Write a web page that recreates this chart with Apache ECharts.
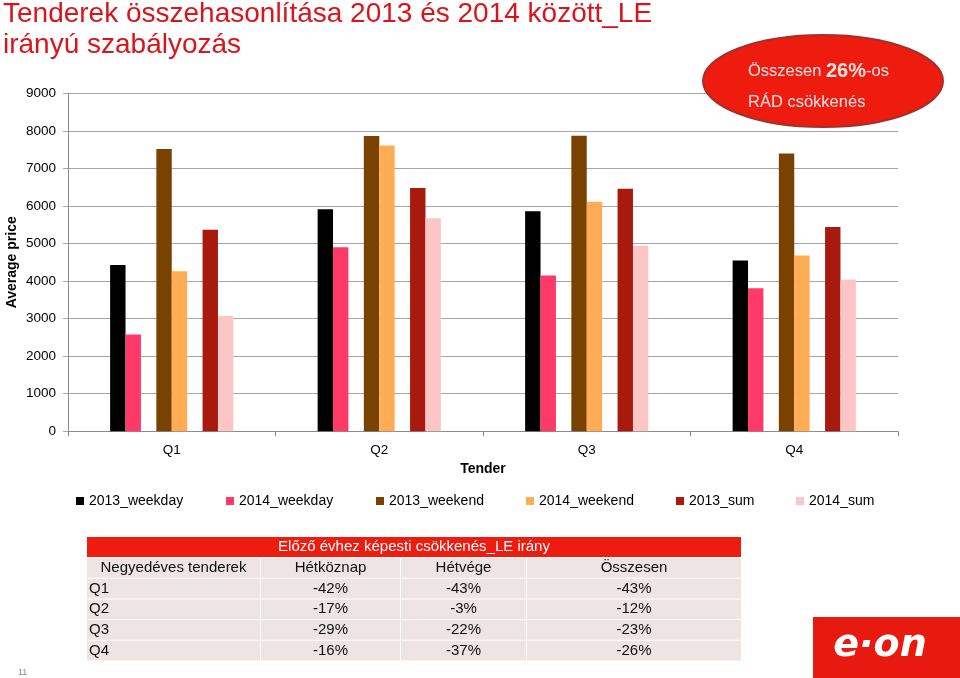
<!DOCTYPE html>
<html><head><meta charset="utf-8">
<script src="https://cdn.jsdelivr.net/npm/echarts@6/dist/echarts.min.js"></script>
<style>html,body{margin:0;padding:0;background:#fff}#c{width:960px;height:678px}</style>
</head><body><div id="c"></div>
<script>
// ---- data ----
const categories = ['Q1', 'Q2', 'Q3', 'Q4'];
const weekday2013 = [4430, 5910, 5860, 4550];
const weekday2014 = [2580, 4900, 4150, 3810];
const weekend2013 = [7520, 7860, 7870, 7400];
const weekend2014 = [4260, 7610, 6110, 4680];
const sum2013 = [5370, 6480, 6460, 5440];
const sum2014 = [3070, 5670, 4940, 4040];
const gapSlot = [null, null, null, null];
const seriesNames = ['2013_weekday', '2014_weekday', '2013_weekend', '2014_weekend', '2013_sum', '2014_sum'];
const yMin = 0, yMax = 9000, yStep = 1000;

const titleLines = ['Tenderek összehasonlítása 2013 és 2014 között_LE', 'irányú szabályozás'];
const calloutLine1 = ['Összesen ', '26%', '-os'];
const calloutLine2 = 'RÁD csökkenés';
const tableTitle = 'Előző évhez képesti csökkenés_LE irány';
const tableHead = ['Negyedéves tenderek', 'Hétköznap', 'Hétvége', 'Összesen'];
const tableQuarters = ['Q1', 'Q2', 'Q3', 'Q4'];
const tableWeekday = ['-42%', '-17%', '-29%', '-16%'];
const tableWeekend = ['-43%', '-3%', '-22%', '-37%'];
const tableTotal = ['-43%', '-12%', '-23%', '-26%'];
const pageNumber = '11';

// ---- styles ----
const FONT = '"Liberation Sans", Arial, sans-serif';
const colors = ['#000000', '#ff3a68', '#7a4200', '#ffad55', '#a81a0e', '#fcc6c6'];
const gridColor = '#a6a6a6';

const chart = echarts.init(document.getElementById('c'), null, {renderer: 'canvas'});

function bar(name, data, color) {
  return {
    name: name, type: 'bar', data: data,
    barGap: '0%', barCategoryGap: '40.6%',
    itemStyle: {color: color},
    emphasis: {disabled: true},
    animation: false
  };
}
const series = [
  bar(seriesNames[0], weekday2013, colors[0]),
  bar(seriesNames[1], weekday2014, colors[1]),
  bar('gapA', gapSlot, 'transparent'),
  bar(seriesNames[2], weekend2013, colors[2]),
  bar(seriesNames[3], weekend2014, colors[3]),
  bar('gapB', gapSlot, 'transparent'),
  bar(seriesNames[4], sum2013, colors[4]),
  bar(seriesNames[5], sum2014, colors[5])
];

const legendLefts = [71, 221, 371, 521, 671, 791];
const legends = seriesNames.map((n, i) => ({
  data: [n], left: legendLefts[i], top: 489,
  icon: 'rect', itemWidth: 8, itemHeight: 8,
  selectedMode: false,
  textStyle: {fontFamily: FONT, fontSize: 14, color: '#000'}
}));

// ---- table graphic ----
const cols = [[87, 260], [261, 400], [401, 526], [527, 741]];
const rowTop0 = 558, rowH = 20.7;
const tbl = [];
tbl.push({type: 'rect', shape: {x: 87, y: 537, width: 654, height: 20}, style: {fill: '#ee1c0f'}, z: 100});
tbl.push({type: 'text', x: 414, y: 547, z: 101, style: {text: tableTitle, fill: '#fff', font: '15px ' + FONT, textAlign: 'center', textVerticalAlign: 'middle'}});
const rows = [tableHead].concat(tableQuarters.map((q, i) => [q, tableWeekday[i], tableWeekend[i], tableTotal[i]]));
rows.forEach((r, ri) => {
  const y = rowTop0 + ri * rowH;
  cols.forEach((c, ci) => {
    tbl.push({type: 'rect', shape: {x: c[0], y: y, width: c[1] - c[0], height: rowH - 1}, style: {fill: '#efe4e4'}, z: 100});
    const left = (ci === 0 && ri > 0);
    tbl.push({type: 'text', x: left ? c[0] + 2 : (c[0] + c[1]) / 2, y: y + (rowH - 1) / 2, z: 101,
      style: {text: r[ci], fill: '#111', font: '15px ' + FONT, textAlign: left ? 'left' : 'center', textVerticalAlign: 'middle'}});
  });
});

const calloutColor = '#f8e2e2';
const graphics = [
  {type: 'text', left: 3, top: -1, z: 100, style: {text: titleLines.join('\n'), fill: '#d9141b', font: '28px ' + FONT, lineHeight: 31}},
  {type: 'ellipse', shape: {cx: 823, cy: 81, rx: 120, ry: 46}, style: {fill: '#ee1c0f', stroke: '#a3302b', lineWidth: 2}, z: 100},
  {type: 'text', x: 748, y: 71, z: 101, style: {
    text: '{a|' + calloutLine1[0] + '}{b|' + calloutLine1[1] + '}{a|' + calloutLine1[2] + '}',
    textVerticalAlign: 'middle', fill: calloutColor,
    rich: {
      a: {fontFamily: FONT, fontSize: 16.5, fill: calloutColor},
      b: {fontFamily: FONT, fontSize: 20, fontWeight: 'bold', fill: calloutColor}
    }
  }},
  {type: 'text', x: 748, y: 102, z: 101, style: {text: calloutLine2, fill: calloutColor, font: '16.5px ' + FONT, textVerticalAlign: 'middle'}},
  {type: 'rect', shape: {x: 813, y: 617, width: 147, height: 61}, style: {fill: '#e8190f'}, z: 100},
  {type: 'text', x: 880, y: 646, z: 101, style: {text: 'e·on', fill: '#fff', font: 'italic bold 38px "DejaVu Sans", sans-serif', textAlign: 'center', textVerticalAlign: 'middle'}},
  {type: 'text', x: 18, y: 673, z: 101, style: {text: pageNumber, fill: '#888', font: '9px ' + FONT, textVerticalAlign: 'middle'}}
].concat(tbl);

chart.setOption({
  animation: false,
  backgroundColor: '#fff',
  grid: {left: 68, right: 62, top: 93.3, bottom: 246.7, containLabel: false, outerBoundsMode: 'none'},
  legend: legends,
  xAxis: {
    type: 'category', data: categories,
    name: 'Tender', nameLocation: 'middle', nameGap: 31, nameMoveOverlap: false,
    nameTextStyle: {fontFamily: FONT, fontSize: 14, fontWeight: 'bold', color: '#000'},
    axisLine: {lineStyle: {color: '#8c8c8c'}},
    axisTick: {show: true, alignWithLabel: false, length: 5, lineStyle: {color: '#8c8c8c'}},
    axisLabel: {margin: 12, fontFamily: FONT, fontSize: 13.5, color: '#000'},
    splitLine: {show: false}
  },
  yAxis: {
    type: 'value', min: yMin, max: yMax, interval: yStep,
    name: 'Average price', nameLocation: 'middle', nameGap: 49, nameRotate: 90, nameMoveOverlap: false,
    nameTextStyle: {fontFamily: FONT, fontSize: 14, fontWeight: 'bold', color: '#000'},
    axisLine: {show: true, lineStyle: {color: '#8c8c8c'}},
    axisTick: {show: true, length: 5, lineStyle: {color: gridColor}},
    axisLabel: {margin: 12, fontFamily: FONT, fontSize: 13.5, color: '#000', formatter: v => String(v)},
    splitLine: {lineStyle: {color: gridColor, width: 1}}
  },
  series: series,
  graphic: graphics
});
</script>
</body></html>
